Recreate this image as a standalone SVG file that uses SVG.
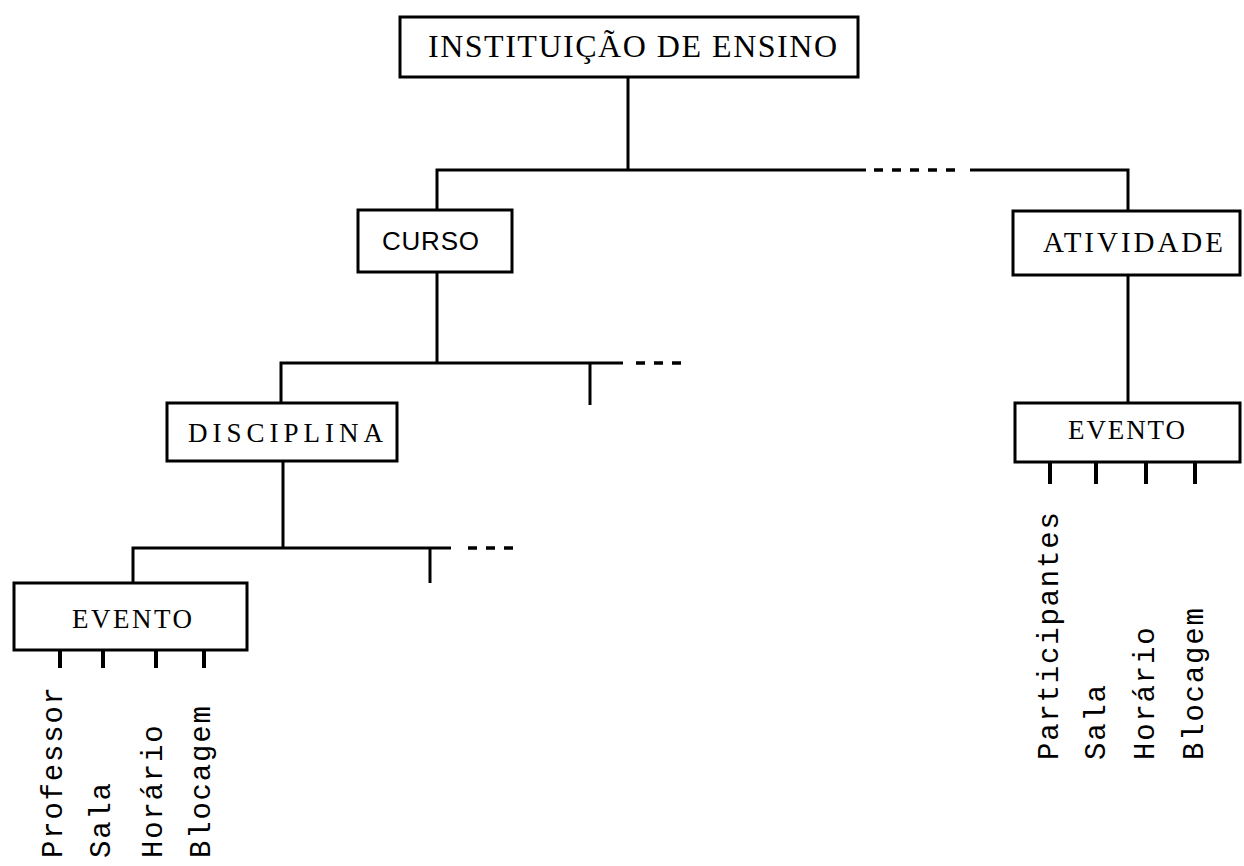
<svg xmlns="http://www.w3.org/2000/svg" width="1244" height="866" viewBox="0 0 1244 866">
  <style>
    .box { fill: #fff; stroke: #000; stroke-width: 3; }
    .ln { fill: none; stroke: #000; stroke-width: 3; }
    .tick { fill: none; stroke: #000; stroke-width: 4; }
    .dash { fill: none; stroke: #000; stroke-width: 3.5; stroke-dasharray: 9 9; }
    .lbl { font-family: "Liberation Serif", serif; fill: #000; }
    .sans { font-family: "Liberation Sans", sans-serif; fill: #000; }
    .attr { font-family: "Liberation Mono", monospace; font-size: 29px; letter-spacing: 1.8px; fill: #000; }
  </style>

  <!-- connectors -->
  <g id="connectors">
    <!-- institution to course / activity -->
    <path class="ln" d="M628 77 V170"/>
    <path class="ln" d="M437 210 V170 H866"/>
    <path class="dash" d="M874 170 H962"/>
    <path class="ln" d="M970 170 H1128 V211"/>
    <!-- course to disciplines -->
    <path class="ln" d="M437 272 V363"/>
    <path class="ln" d="M281 403 V363 H623"/>
    <path class="ln" d="M590 363 V405"/>
    <path class="dash" d="M636 363 H690"/>
    <!-- discipline to events -->
    <path class="ln" d="M283 461 V548"/>
    <path class="ln" d="M133 583 V548 H451"/>
    <path class="ln" d="M430 548 V583"/>
    <path class="dash" d="M468 548 H516"/>
    <!-- activity to event -->
    <path class="ln" d="M1128 275 V403"/>
    <!-- attribute ticks, discipline event -->
    <path class="tick" d="M60 650 V668 M103 650 V668 M156 650 V668 M204 650 V668"/>
    <!-- attribute ticks, activity event -->
    <path class="tick" d="M1050 462 V484 M1096 462 V484 M1146 462 V484 M1195 462 V484"/>
  </g>

  <g id="instituicao">
    <rect class="box" x="400" y="17" width="458" height="60"/>
    <text class="lbl" x="428" y="57" font-size="32" textLength="409" lengthAdjust="spacing">INSTITUIÇÃO DE ENSINO</text>
  </g>

  <g id="curso">
    <rect class="box" x="358" y="210" width="154" height="62"/>
    <text class="sans" x="382" y="250" font-size="26" textLength="97" lengthAdjust="spacing">CURSO</text>
  </g>

  <g id="atividade">
    <rect class="box" x="1013" y="211" width="227" height="64"/>
    <text class="lbl" x="1043" y="252" font-size="29" textLength="180" lengthAdjust="spacing">ATIVIDADE</text>
  </g>

  <g id="disciplina">
    <rect class="box" x="167" y="403" width="230" height="58"/>
    <text class="lbl" x="188" y="442" font-size="27" textLength="195" lengthAdjust="spacing">DISCIPLINA</text>
  </g>

  <g id="evento-disciplina">
    <rect class="box" x="14" y="583" width="233" height="67"/>
    <text class="lbl" x="72" y="628" font-size="27" textLength="120" lengthAdjust="spacing">EVENTO</text>
    <text class="attr" transform="translate(62 858) rotate(-90)">Professor</text>
    <text class="attr" transform="translate(110 858) rotate(-90)">Sala</text>
    <text class="attr" transform="translate(162 858) rotate(-90)">Horário</text>
    <text class="attr" transform="translate(210 858) rotate(-90)">Blocagem</text>
  </g>

  <g id="evento-atividade">
    <rect class="box" x="1015" y="403" width="225" height="59"/>
    <text class="lbl" x="1068" y="439" font-size="27" textLength="117" lengthAdjust="spacing">EVENTO</text>
    <text class="attr" transform="translate(1058 760) rotate(-90)">Participantes</text>
    <text class="attr" transform="translate(1105 760) rotate(-90)">Sala</text>
    <text class="attr" transform="translate(1154 760) rotate(-90)">Horário</text>
    <text class="attr" transform="translate(1203 760) rotate(-90)">Blocagem</text>
  </g>
</svg>
